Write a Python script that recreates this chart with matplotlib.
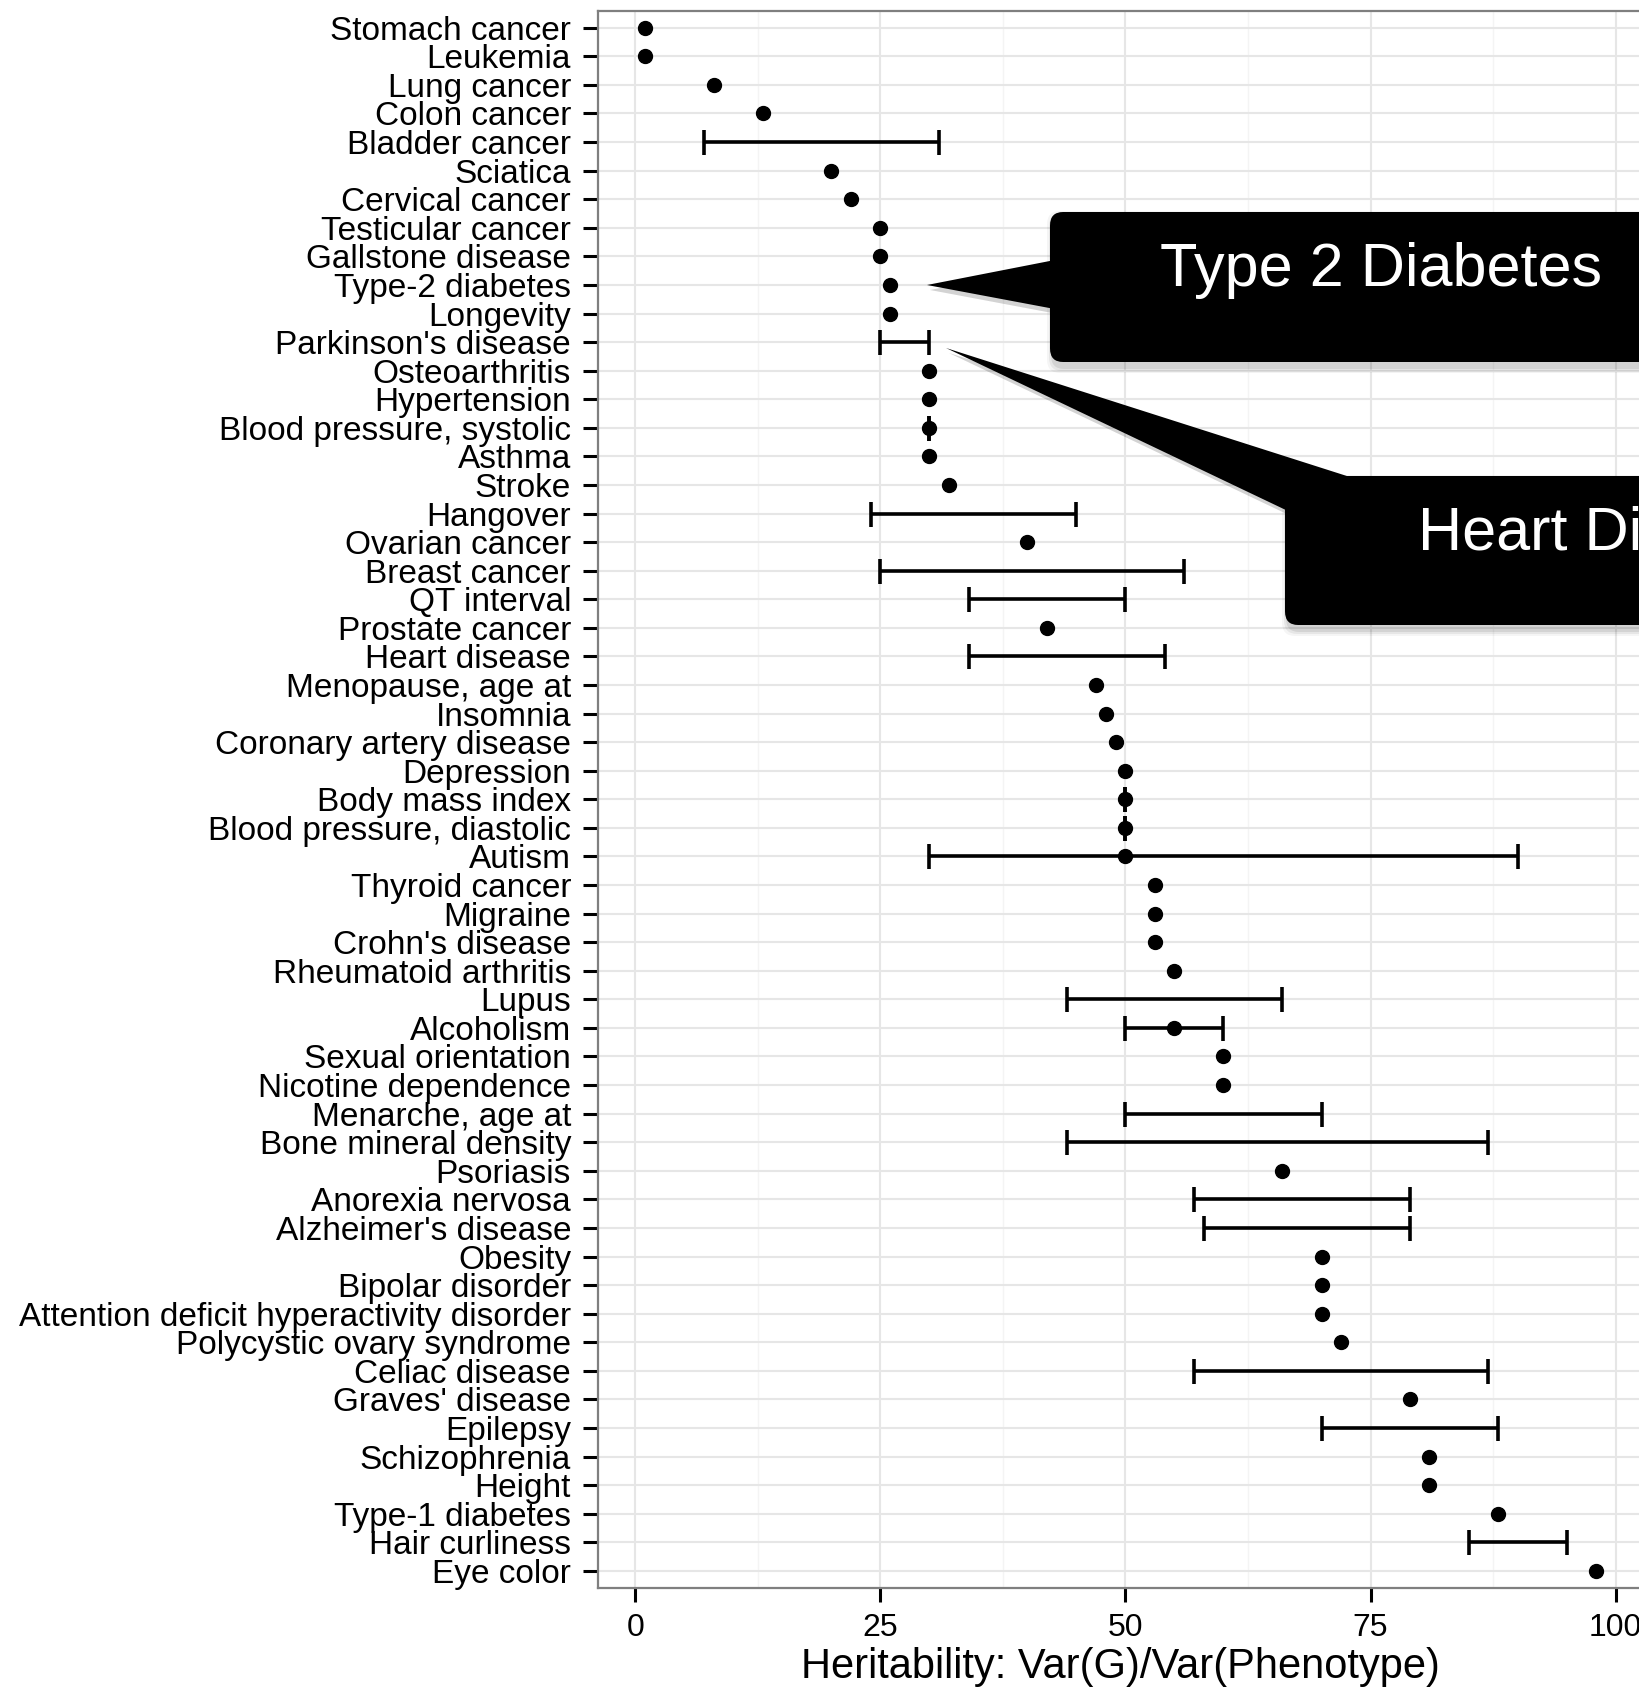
import matplotlib
matplotlib.use("Agg")
import matplotlib.pyplot as plt
import numpy as np
from matplotlib.patches import FancyBboxPatch, Polygon

plt.rcParams['font.family'] = ['Liberation Sans', 'DejaVu Sans']

# ---------------- data ----------------
traits = [
    "Stomach cancer", "Leukemia", "Lung cancer", "Colon cancer", "Bladder cancer",
    "Sciatica", "Cervical cancer", "Testicular cancer", "Gallstone disease",
    "Type-2 diabetes", "Longevity", "Parkinson's disease", "Osteoarthritis",
    "Hypertension", "Blood pressure, systolic", "Asthma", "Stroke", "Hangover",
    "Ovarian cancer", "Breast cancer", "QT interval", "Prostate cancer",
    "Heart disease", "Menopause, age at", "Insomnia", "Coronary artery disease",
    "Depression", "Body mass index", "Blood pressure, diastolic", "Autism",
    "Thyroid cancer", "Migraine", "Crohn's disease", "Rheumatoid arthritis",
    "Lupus", "Alcoholism", "Sexual orientation", "Nicotine dependence",
    "Menarche, age at", "Bone mineral density", "Psoriasis", "Anorexia nervosa",
    "Alzheimer's disease", "Obesity", "Bipolar disorder",
    "Attention deficit hyperactivity disorder", "Polycystic ovary syndrome",
    "Celiac disease", "Graves' disease", "Epilepsy", "Schizophrenia", "Height",
    "Type-1 diabetes", "Hair curliness", "Eye color",
]
N = None
point_est = [
    1, 1, 8, 13, N,
    20, 22, 25, 25,
    26, 26, N, 30,
    30, 30, 30, 32, N,
    40, N, N, 42,
    N, 47, 48, 49,
    50, 50, 50, 50,
    53, 53, 53, 55,
    N, 55, 60, 60,
    N, N, 66, N,
    N, 70, 70,
    70, 72,
    N, 79, N, 81, 81,
    88, N, 98,
]
range_low = [
    N, N, N, N, 7,
    N, N, N, N,
    N, N, 25, N,
    N, 30, N, N, 24,
    N, 25, 34, N,
    34, N, N, N,
    N, 50, 50, 30,
    N, N, N, N,
    44, 50, N, N,
    50, 44, N, 57,
    58, N, N,
    N, N,
    57, N, 70, N, N,
    N, 85, N,
]
range_high = [
    N, N, N, N, 31,
    N, N, N, N,
    N, N, 30, N,
    N, 30, N, N, 45,
    N, 56, 50, N,
    54, N, N, N,
    N, 50, 50, 90,
    N, N, N, N,
    66, 60, N, N,
    70, 87, N, 79,
    79, N, N,
    N, N,
    87, N, 88, N, N,
    N, 95, N,
]
x_ticks = [0, 25, 50, 75, 100]
x_title = "Heritability: Var(G)/Var(Phenotype)"
callout_labels = ["Type 2 Diabetes", "Heart Disease"]

# ---------------- figure ----------------
W, H = 1639, 1689
fig = plt.figure(figsize=(W / 100, H / 100), dpi=100)
fig.patch.set_facecolor("white")

def fx(px):
    return px / W

def fy(py):
    return 1 - py / H

ax_left, ax_right, ax_top, ax_bottom = 597.5, 1643.6, 10.6, 1588.0
ax = fig.add_axes([fx(ax_left), fy(ax_bottom), (ax_right - ax_left) / W, (ax_bottom - ax_top) / H])

ypos = np.arange(len(traits))

# grid
ax.set_xticks(x_ticks)
ax.set_xticks([12.5, 37.5, 62.5, 87.5], minor=True)
ax.grid(True, which="major", color="#E6E6E6", linewidth=1.5, zorder=0)
ax.grid(True, which="minor", axis="x", color="#F4F4F4", linewidth=1.0, zorder=0)
ax.set_axisbelow(True)

# error bars
for i, (lo, hi) in enumerate(zip(range_low, range_high)):
    if lo is None:
        continue
    ax.errorbar([(lo + hi) / 2], [i], xerr=[[(hi - lo) / 2], [(hi - lo) / 2]],
                fmt="none", ecolor="black", elinewidth=2.6, capsize=9,
                capthick=2.6, zorder=3)

# points
px_ = [v for v in point_est if v is not None]
py_ = [i for i, v in enumerate(point_est) if v is not None]
ax.plot(px_, py_, "o", color="black", markersize=10, zorder=4, linestyle="none")

ax.set_yticks(ypos)
ax.set_yticklabels(traits)
ax.set_xlim(-3.85, 102.85)
ax.set_ylim(len(traits) - 1 + 0.6, -0.6)

ax.tick_params(axis="y", labelsize=24, length=11, width=2.2, pad=8, colors="black")
ax.tick_params(axis="x", labelsize=23, length=10, width=2.2, pad=8, colors="black")
ax.tick_params(axis="x", which="minor", length=0)
for s in ax.spines.values():
    s.set_color("#7F7F7F")
    s.set_linewidth(1.6)
ax.set_xlabel(x_title, fontsize=30, labelpad=3)

# ---------------- callouts ----------------
def pts(coords):
    return [(fx(x), fy(y)) for x, y in coords]

def callout(box_l, box_t, box_b, tri, text, tx, ty):
    # soft shadow
    for k, a in enumerate([0.04, 0.06, 0.08]):
        g = 6 - 2 * k
        sh = FancyBboxPatch((fx(box_l + 3 - g), fy(box_b + 5 + g)),
                            fx(1800 - box_l), (box_b - box_t + 2 * g) / H,
                            boxstyle="round,pad=0,rounding_size=0.008",
                            transform=fig.transFigure, facecolor="black",
                            edgecolor="none", alpha=a, zorder=9)
        fig.patches.append(sh)
        shp = Polygon(pts([(x + 3, y + 5) for x, y in tri]), closed=True,
                      transform=fig.transFigure, facecolor="black",
                      edgecolor="none", alpha=a, zorder=9)
        fig.patches.append(shp)
    box = FancyBboxPatch((fx(box_l), fy(box_b)), fx(1800 - box_l), (box_b - box_t) / H,
                         boxstyle="round,pad=0,rounding_size=0.008",
                         transform=fig.transFigure, facecolor="black",
                         edgecolor="none", zorder=10)
    fig.patches.append(box)
    poly = Polygon(pts(tri), closed=True, transform=fig.transFigure,
                   facecolor="black", edgecolor="none", zorder=10)
    fig.patches.append(poly)
    fig.text(fx(tx), fy(ty), text, color="white", fontsize=44, ha="left",
             va="baseline", zorder=11)

callout(1050, 212, 362, [(927, 285), (1060, 259), (1060, 310)],
        callout_labels[0], 1160, 286)
callout(1285, 476, 625, [(946, 348), (1350, 477), (1290, 512)],
        callout_labels[1], 1418, 550)

fig.savefig("out.png", dpi=100, facecolor="white")
